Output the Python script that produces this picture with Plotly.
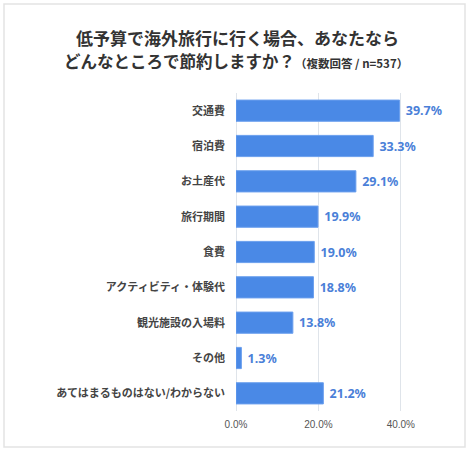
import plotly.graph_objects as go

# answers, top to bottom as in the source chart
categories = ["交通費", "宿泊費", "お土産代", "旅行期間", "食費",
              "アクティビティ・体験代", "観光施設の入場料", "その他",
              "あてはまるものはない/わからない"]
shares = [39.7, 33.3, 29.1, 19.9, 19.0, 18.8, 13.8, 1.3, 21.2]
tick_vals = [0, 20, 40]
tick_text = ["0.0%", "20.0%", "40.0%"]

JP = "Noto Sans CJK JP"

fig = go.Figure()
fig.add_trace(go.Bar(
    x=shares, y=categories, orientation="h",
    marker=dict(color="#4a89e6", line=dict(color="#6b9fee", width=1)),
    text=[f" {v:.1f}%" for v in shares],  # leading space = gap after the bar
    textposition="outside", cliponaxis=False,
    textfont=dict(family="Noto Sans", size=12.5, color="#4a80d8", weight="bold"),
    width=0.6, hoverinfo="skip",
))

# plot area: 0% at x=236px, 4.125 px per percent
fig.update_layout(
    width=470, height=450,
    margin=dict(l=236, r=28, t=93, b=39),
    paper_bgcolor="white", plot_bgcolor="white",
    showlegend=False,
    xaxis=dict(range=[0, 50], tickvals=tick_vals, ticktext=tick_text,
               showgrid=True, gridcolor="#dfe4ea", gridwidth=1,
               zeroline=True, zerolinecolor="#dfe4ea", zerolinewidth=1,
               showline=False, ticks="", ticklabelstandoff=6,
               tickfont=dict(family="Liberation Sans", size=10, color="#555")),
    yaxis=dict(autorange="reversed", showgrid=False, ticks="",
               ticklabelstandoff=10,
               tickfont=dict(family=JP, size=11, color="#444", weight="bold")),
)

# place the title lines in pixels: convert to paper coords
plot_w = 470 - 236 - 28
plot_h = 450 - 93 - 39
def px_x(p):
    return (p - 236) / plot_w
def px_y(p):
    return (450 - 39 - p) / plot_h

fig.add_annotation(
    text="低予算で海外旅行に行く場合、あなたなら",
    xref="paper", yref="paper", x=px_x(237), y=px_y(38),
    xanchor="center", yanchor="middle", showarrow=False,
    font=dict(family=JP, size=17, color="#333", weight="bold"),
)
fig.add_annotation(
    text="どんなところで節約しますか？<span style='font-size:11.5px'>（複数回答 / n=537）</span>",
    xref="paper", yref="paper", x=px_x(236), y=px_y(61),
    xanchor="center", yanchor="middle", showarrow=False,
    font=dict(family=JP, size=16.5, color="#333", weight="bold"),
)

# outer frame
fig.add_shape(type="rect", xref="paper", yref="paper",
              x0=px_x(4), x1=px_x(465), y0=px_y(447), y1=px_y(4),
              line=dict(color="#e3e3e3", width=1.5), layer="below")

# drop the default page margin so the figure sits at the window corner
fig.write_html("out.html", config={"displayModeBar": False},
               post_script="document.body.style.margin='0';")
